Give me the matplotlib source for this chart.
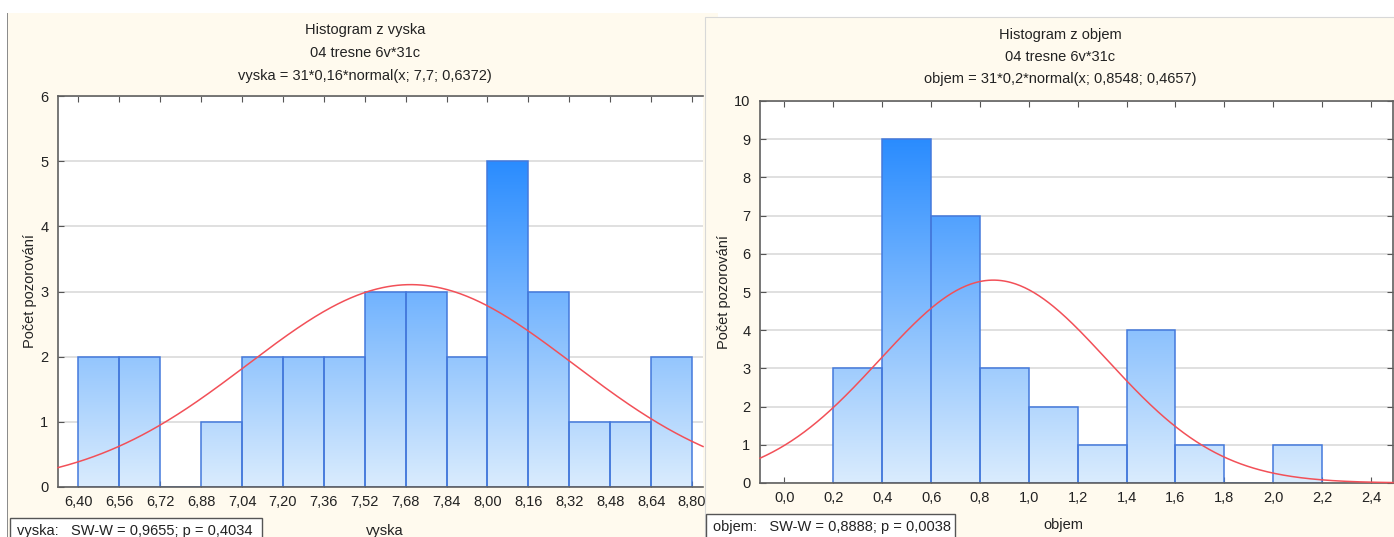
import numpy as np
import matplotlib
matplotlib.use("Agg")
import matplotlib.pyplot as plt
from matplotlib.patches import Rectangle, PathPatch
from matplotlib.path import Path
from matplotlib.colors import LinearSegmentedColormap

plt.rcParams['font.family'] = ['Liberation Sans', 'DejaVu Sans']

# data
vyska_edges = [6.40, 6.56, 6.72, 6.88, 7.04, 7.20, 7.36, 7.52, 7.68, 7.84,
               8.00, 8.16, 8.32, 8.48, 8.64, 8.80]
vyska_counts = [2, 2, 0, 1, 2, 2, 2, 3, 3, 2, 5, 3, 1, 1, 2]
vyska_ticks = vyska_edges
vyska_fit = (31, 0.16, 7.7, 0.6372)   # n, bin width, mean, sd

objem_edges = [0.2, 0.4, 0.6, 0.8, 1.0, 1.2, 1.4, 1.6, 1.8, 2.0, 2.2]
objem_counts = [3, 9, 7, 3, 2, 1, 4, 1, 0, 1]
objem_ticks = [0.0, 0.2, 0.4, 0.6, 0.8, 1.0, 1.2, 1.4, 1.6, 1.8, 2.0, 2.2, 2.4]
objem_fit = (31, 0.2, 0.8548, 0.4657)

W, H = 1394, 537
CREAM = '#FFFAEE'
EDGE = '#4479DC'
cmap = LinearSegmentedColormap.from_list('bars', ['#DAECFD', '#2A8CFF'])

fig = plt.figure(figsize=(W / 100, H / 100), dpi=100)
fig.patch.set_facecolor('white')


def px_axes(x0, y0, x1, y1, z):
    return fig.add_axes([x0 / W, 1 - y1 / H, (x1 - x0) / W, (y1 - y0) / H], zorder=z)


def fig_rect(x0, y0, x1, y1, z, fc, ec='none', lw=0):
    r = Rectangle((x0 / W, 1 - y1 / H), (x1 - x0) / W, (y1 - y0) / H,
                  transform=fig.transFigure, facecolor=fc, edgecolor=ec,
                  linewidth=lw, zorder=z)
    fig.patches.append(r)


def comma(v, nd):
    return f"{v:.{nd}f}".replace('.', ',')


def histo(ax, edges, counts, fit, xlim, ylim, ticks, nd):
    ax.set_facecolor('white')
    ax.set_xlim(*xlim)
    ax.set_ylim(*ylim)
    ax.set_axisbelow(True)
    ax.yaxis.grid(True, color='#E0E0E0', lw=1.4)
    # gradient fill clipped to the bars
    verts, codes = [], []
    for i, c in enumerate(counts):
        if c == 0:
            continue
        x0, x1 = edges[i], edges[i + 1]
        verts += [(x0, 0), (x1, 0), (x1, c), (x0, c), (x0, 0)]
        codes += [Path.MOVETO, Path.LINETO, Path.LINETO, Path.LINETO, Path.CLOSEPOLY]
    clip = PathPatch(Path(verts, codes), transform=ax.transData, fc='none', ec='none')
    ax.add_patch(clip)
    grad = np.linspace(0, 1, 256).reshape(-1, 1)
    im = ax.imshow(grad, extent=(edges[0], edges[-1], 0, max(counts)), origin='lower',
                   aspect='auto', cmap=cmap, zorder=1.5)
    im.set_clip_path(clip)
    ax.bar(edges[:-1], counts, width=np.diff(edges), align='edge', fill=False,
           edgecolor=EDGE, linewidth=1.1, zorder=2)
    n, bw, mu, sd = fit
    xs = np.linspace(xlim[0], xlim[1], 400)
    ys = n * bw * np.exp(-0.5 * ((xs - mu) / sd) ** 2) / (sd * np.sqrt(2 * np.pi))
    ax.plot(xs, ys, color='#F25058', lw=1.1, zorder=3, clip_on=False)
    ax.set_xticks(ticks)
    ax.set_xticklabels([comma(t, nd) for t in ticks])
    ax.set_yticks(range(int(ylim[1]) + 1))
    ax.tick_params(direction='in', length=4, width=0.8, color='#555555',
                   labelsize=10.5, labelcolor='#222222', pad=7, top=True)
    ax.tick_params(axis='x', pad=6)
    for s in ax.spines.values():
        s.set_color('#606060')
        s.set_linewidth(1.2)
    ax.set_ylabel('Počet pozorování', fontsize=10.5, color='#222222', labelpad=2)


# panel backgrounds
fig_rect(8, 13, 718, 540, -5, CREAM)
fig_rect(7, 13, 8.5, 540, -4, '#8C8C8C')
fig_rect(705, 17, 1400, 540, 0.5, CREAM, '#D8D8D8', 0.8)

# left panel
ax1 = px_axes(58, 96, 703, 487, 0)
histo(ax1, vyska_edges, vyska_counts, vyska_fit, (6.32, 8.843), (0, 6), vyska_ticks, 2)
ax1.spines['right'].set_visible(False)
ax1.tick_params(right=False)

# right panel
ax2 = px_axes(760, 101, 1393, 483, 1)
histo(ax2, objem_edges, objem_counts, objem_fit, (-0.1, 2.49), (0, 10), objem_ticks, 1)
ax2.tick_params(right=True)

tkw = dict(ha='center', va='center', fontsize=10.5, color='#222222')
fig.text(365 / W, 1 - 30 / H, 'Histogram z vyska', **tkw)
fig.text(365 / W, 1 - 53 / H, '04 tresne 6v*31c', **tkw)
fig.text(365 / W, 1 - 76 / H, 'vyska = 31*0,16*normal(x; 7,7; 0,6372)', **tkw)
fig.text(1060 / W, 1 - 35 / H, 'Histogram z objem', **tkw)
fig.text(1060 / W, 1 - 57 / H, '04 tresne 6v*31c', **tkw)
fig.text(1060 / W, 1 - 79 / H, 'objem = 31*0,2*normal(x; 0,8548; 0,4657)', **tkw)

# x axis titles and normality boxes
fig.text(385 / W, 1 - 531 / H, 'vyska', zorder=0.2, **tkw)
fig.text(1063 / W, 1 - 525 / H, 'objem', zorder=2, **tkw)
fig_rect(10, 518, 262, 545, 0.3, 'white', '#555555', 1)
fig.text(17 / W, 1 - 531 / H, 'vyska:   SW-W = 0,9655; p = 0,4034', ha='left', va='center',
         fontsize=10.5, color='#222222', zorder=0.4)
fig_rect(706, 514, 955, 545, 1.5, 'white', '#555555', 1)
fig.text(713 / W, 1 - 527 / H, 'objem:   SW-W = 0,8888; p = 0,0038', ha='left', va='center',
         fontsize=10.5, color='#222222', zorder=1.6)

fig.savefig('out.png', dpi=100, facecolor=fig.get_facecolor())
